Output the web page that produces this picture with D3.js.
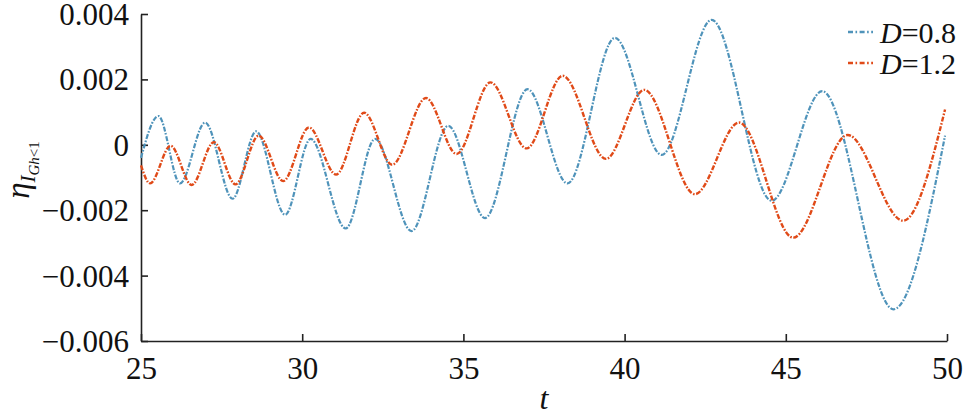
<!DOCTYPE html>
<html>
<head>
<meta charset="utf-8">
<script src="https://cdn.jsdelivr.net/npm/d3@7"></script>
<style>
  html, body { margin: 0; padding: 0; background: #fff; }
  svg { display: block; }
  text { font-family: "Liberation Serif", "Times New Roman", Times, Tinos, "DejaVu Serif", "Noto Serif", serif; fill: #111; }
</style>
</head>
<body>
<svg id="chart" width="968" height="418"></svg>
<script>
// ---- data (turning points of each curve) ----
const tD08   = [25.0, 25.54, 26.21, 26.99, 27.84, 28.57, 29.47, 30.26, 31.35, 32.26, 33.39, 34.53, 35.67, 36.99, 38.23, 39.70, 41.15, 42.70, 44.56, 46.13, 48.34, 49.94];
const etaD08 = [-0.0004, 0.00088, -0.00118, 0.00068, -0.00165, 0.00041, -0.00214, 0.00018, -0.00256, 0.00018, -0.00264, 0.00058, -0.00224, 0.0017, -0.00118, 0.00327, -0.00031, 0.00382, -0.00171, 0.00164, -0.00503, 0.00028];

const tD12   = [25.0, 25.28, 25.92, 26.57, 27.26, 27.93, 28.65, 29.41, 30.21, 31.05, 31.92, 32.79, 33.84, 34.79, 35.84, 36.96, 38.08, 39.42, 40.61, 42.18, 43.55, 45.23, 46.92, 48.64, 49.94];
const etaD12 = [-0.00063, -0.00118, -0.00003, -0.00123, 0.00008, -0.00121, 0.00028, -0.00111, 0.00053, -0.00091, 0.00098, -0.00061, 0.00143, -0.00028, 0.00191, -0.00011, 0.00211, -0.00043, 0.00168, -0.00151, 0.00068, -0.00284, 0.0003, -0.00232, 0.00108];

const seriesNames  = ["D=0.8", "D=1.2"];
const seriesColors = ["#4f93ba", "#e04a18"];
const xTicks = [25, 30, 35, 40, 45, 50];
const yTicks = [0.004, 0.002, 0, -0.002, -0.004, -0.006];
const yTickLabels = ["0.004", "0.002", "0", "\u22120.002", "\u22120.004", "\u22120.006"];

// ---- layout ----
const FONT = '"Liberation Serif", "Times New Roman", Times, Tinos, "DejaVu Serif", "Noto Serif", serif';
const svg = d3.select("#chart");
const mLeft = 141, mRight = 947, mTop = 14, mBottom = 341;

const x = d3.scaleLinear().domain([25, 50]).range([mLeft, mRight]);
const y = d3.scaleLinear().domain([-0.006, 0.004]).range([mBottom, mTop]);

// axes
const xAxis = d3.axisBottom(x).tickValues(xTicks).tickSizeInner(-7).tickSizeOuter(0).tickPadding(16).tickFormat(d3.format("d"));
const yAxis = d3.axisLeft(y).tickValues(yTicks).tickSizeInner(-7).tickSizeOuter(0).tickPadding(12)
  .tickFormat((d, i) => yTickLabels[i]);

const gx = svg.append("g").attr("transform", `translate(0,${mBottom})`).call(xAxis);
const gy = svg.append("g").attr("transform", `translate(${mLeft},0)`).call(yAxis);

[gx, gy].forEach(g => {
  g.attr("font-family", FONT);
  g.select(".domain").attr("stroke", "#222").attr("stroke-width", 1.6);
  g.selectAll(".tick line").attr("stroke", "#222").attr("stroke-width", 1.6);
  g.selectAll(".tick text")
    .style("font-family", FONT)
    .style("font-size", "31px")
    .attr("fill", "#111");
});
gx.selectAll(".tick text").attr("dy", "0.72em");
gy.selectAll(".tick text").attr("dy", "0.34em");

// axis titles
svg.append("text")
  .attr("x", (mLeft + mRight) / 2).attr("y", 409)
  .attr("text-anchor", "middle")
  .style("font-family", FONT)
  .style("font-size", "32px").style("font-style", "italic")
  .text("t");

const yl = svg.append("text")
  .attr("transform", "translate(29,170) rotate(-90)")
  .attr("text-anchor", "middle")
  .style("font-family", FONT);
yl.append("tspan").style("font-size", "33px").style("font-style", "italic").text("\u03b7");
yl.append("tspan").attr("dy", 6).style("font-size", "21px").style("font-style", "italic").text("I");
yl.append("tspan").attr("dy", 4).style("font-size", "15px").style("font-style", "italic").text("Gh");
yl.append("tspan").style("font-size", "15px").text("<1");

// lines
const line = d3.line().x(d => x(d[0])).y(d => y(d[1])).curve(d3.curveMonotoneX);
const series = [
  d3.zip(tD08, etaD08),
  d3.zip(tD12, etaD12)
];
series.forEach((data, i) => {
  svg.append("path")
    .datum(data)
    .attr("fill", "none")
    .attr("stroke", seriesColors[i])
    .attr("stroke-width", i === 0 ? 2.2 : 2.4)
    .attr("stroke-dasharray", "5,1.6,1.6,1.6")
    .attr("d", line);
});

// legend
const legY = [32, 63];
seriesNames.forEach((name, i) => {
  svg.append("line")
    .attr("x1", 848).attr("x2", 873)
    .attr("y1", legY[i]).attr("y2", legY[i])
    .attr("stroke", seriesColors[i]).attr("stroke-width", 2.4)
    .attr("stroke-dasharray", "5,2.5,1.6,2.5");
  svg.append("text").attr("x", 880).attr("y", legY[i] + 11)
    .style("font-family", FONT).style("font-size", "30px")
    .html(`<tspan font-style="italic">${name.split("=")[0]}</tspan>=${name.split("=")[1]}`);
});
</script>
</body>
</html>
